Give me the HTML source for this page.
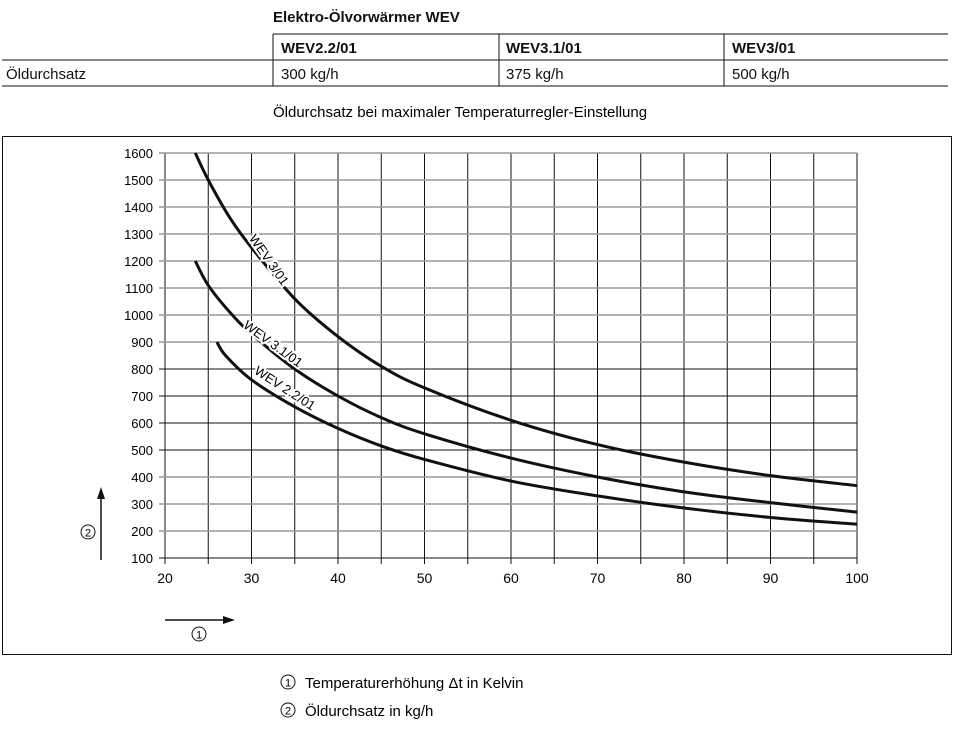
<!DOCTYPE html>
<html><head><meta charset="utf-8"><style>
body{margin:0;background:#fff;font-family:"Liberation Sans",sans-serif;color:#111}
svg text{font-family:"Liberation Sans",sans-serif}
</style></head><body>
<svg width="959" height="725" xmlns="http://www.w3.org/2000/svg" id="chart">
<g font-size="15" fill="#111">
<text x="273" y="22" font-weight="bold">Elektro-Ölvorwärmer WEV</text>
<line x1="273" y1="34" x2="948" y2="34" stroke="#111"/>
<line x1="2" y1="60" x2="948" y2="60" stroke="#111"/>
<line x1="2" y1="86" x2="948" y2="86" stroke="#111"/>
<line x1="273" y1="34" x2="273" y2="86" stroke="#111"/>
<line x1="499" y1="34" x2="499" y2="86" stroke="#111"/>
<line x1="724" y1="34" x2="724" y2="86" stroke="#111"/>
<g font-weight="bold"><text x="281" y="53">WEV2.2/01</text><text x="506" y="53">WEV3.1/01</text><text x="732" y="53">WEV3/01</text></g>
<text x="6" y="79">Öldurchsatz</text><text x="281" y="79">300 kg/h</text><text x="506" y="79">375 kg/h</text><text x="732" y="79">500 kg/h</text>
</g>
<text x="273" y="117" font-size="15">Öldurchsatz bei maximaler Temperaturregler-Einstellung</text>
<rect x="2.5" y="136.5" width="949" height="518" fill="none" stroke="#111"/>
<g id="grid"></g><g id="curves"></g><g id="labels" font-size="13"></g>
<g><line x1="165" y1="620" x2="225" y2="620" stroke="#111" stroke-width="1.5"/><polygon points="235,620 223,616 223,624" fill="#111"/>
<circle cx="199" cy="634" r="7" fill="none" stroke="#111"/><text x="199" y="638.5" font-size="11" text-anchor="middle">1</text></g>
<g><line x1="101" y1="560" x2="101" y2="497" stroke="#111" stroke-width="1.5"/><polygon points="101,487 97,499 105,499" fill="#111"/>
<circle cx="88" cy="532" r="7" fill="none" stroke="#111"/><text x="88" y="536.5" font-size="11" text-anchor="middle">2</text></g>
<g font-size="15">
<circle cx="288" cy="682" r="7" fill="none" stroke="#111"/><text x="288" y="686.5" font-size="11" text-anchor="middle">1</text>
<text x="305" y="688">Temperaturerhöhung Δt in Kelvin</text>
<circle cx="288" cy="710" r="7" fill="none" stroke="#111"/><text x="288" y="714.5" font-size="11" text-anchor="middle">2</text>
<text x="305" y="716">Öldurchsatz in kg/h</text></g>
</svg>
<script>
const xTicks=[20,30,40,50,60,70,80,90,100];
const yTicks=[100,200,300,400,500,600,700,800,900,1000,1100,1200,1300,1400,1500,1600];
const seriesNames=["WEV 3/01","WEV 3.1/01","WEV 2.2/01"];
const xs3=[23.5,25,27.5,30,35,40,45,50,60,70,80,90,100];
const ys3=[1600,1500,1360,1250,1060,920,810,730,610,520,455,405,368];
const xs31=[23.5,25,27.5,30,35,40,45,50,60,70,80,90,100];
const ys31=[1200,1110,1010,930,800,700,620,560,470,400,345,305,270];
const xs22=[26,27,30,35,40,45,50,60,70,80,90,100];
const ys22=[900,850,760,660,580,515,465,385,330,285,250,225];
const NS="http://www.w3.org/2000/svg";
const X=v=>165+(v-20)*(692/80), Y=v=>558-(v-100)*0.27;
function mk(t,a,p){const e=document.createElementNS(NS,t);for(const k in a)e.setAttribute(k,a[k]);p.appendChild(e);return e;}
const g=document.getElementById('grid');
for(let v=20;v<=100;v+=5){const l=mk('line',{x1:X(v),x2:X(v),y1:Y(1600),y2:Y(100)+6,stroke:'#111','stroke-width':1},g);

}
yTicks.forEach(v=>{const gray=(v>=900||(v>=200&&v<=400));const l=mk('line',{x1:X(20)-6,x2:X(100),y1:Y(v),y2:Y(v),stroke:gray?'#999':'#111','stroke-width':gray?1.5:1},g);


const t=mk('text',{x:X(20)-12,y:Y(v)+5,'text-anchor':'end','font-size':13},g);t.textContent=v;

});
xTicks.forEach(v=>{const t=mk('text',{x:X(v),y:Y(100)+25,'text-anchor':'middle','font-size':14},g);t.textContent=v;

});
const c=document.getElementById('curves');
function path(xs,ys){let d='';const p=xs.map((x,i)=>[X(x),Y(ys[i])]);d='M'+p[0];
for(let i=0;i<p.length-1;i++){const p0=p[i-1]||p[i],p1=p[i],p2=p[i+1],p3=p[i+2]||p2;
d+=` C${p1[0]+(p2[0]-p0[0])/6},${p1[1]+(p2[1]-p0[1])/6} ${p2[0]-(p3[0]-p1[0])/6},${p2[1]-(p3[1]-p1[1])/6} ${p2[0]},${p2[1]}`;}return d;}
[[xs3,ys3,'curve-wev-3-01'],[xs31,ys31,'curve-wev-3-1-01'],[xs22,ys22,'curve-wev-2-2-01']].forEach(s=>{
const p=mk('path',{d:path(s[0],s[1]),fill:'none',stroke:'#111','stroke-width':3},c);

});
const lab=document.getElementById('labels');
const labPos=[[31.6,1195,55],[32.2,880,36],[33.6,715,33]];
labPos.forEach((q,i)=>{const t=mk('text',{x:X(q[0]),y:Y(q[1]),transform:`rotate(${q[2]} ${X(q[0])} ${Y(q[1])})`,'text-anchor':'middle',stroke:'#fff','stroke-width':4,'paint-order':'stroke'},lab);t.textContent=seriesNames[i];

});
</script>
</body></html>
